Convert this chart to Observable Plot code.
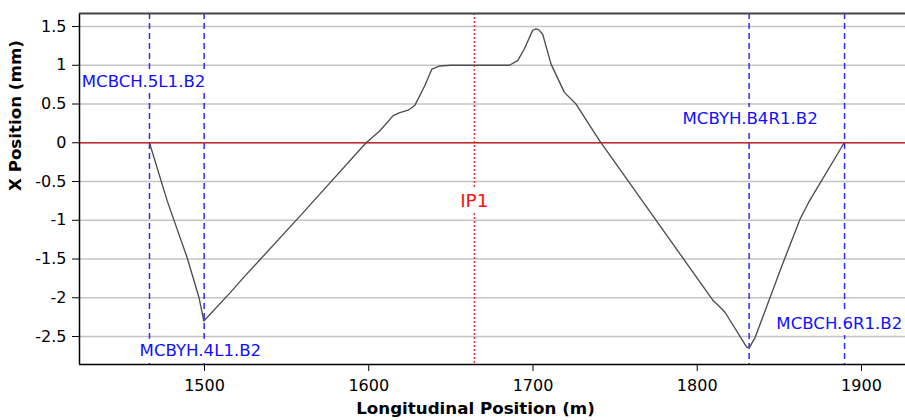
<!DOCTYPE html>
<html>
<head>
<meta charset="utf-8">
<script src="https://cdn.jsdelivr.net/npm/d3@7"></script>
<script src="https://cdn.jsdelivr.net/npm/@observablehq/plot@0.6"></script>
<style>
  html, body { margin: 0; padding: 0; background: white; overflow: hidden; }
  svg { display: block; }
  svg text { font-family: "DejaVu Sans", sans-serif; }
</style>
</head>
<body>
<div id="chart"></div>
<script>
// Orbit curve: longitudinal position (m) and X position (mm)
const orbitS = [1466.5, 1477.3, 1489.4, 1496.7, 1499.6, 1515.8, 1522.9, 1558.4, 1566.5, 1598.4,
  1606.8, 1614.9, 1618.9, 1624.0, 1628.0, 1634.1, 1638.4, 1643.0, 1650.0, 1685.6,
  1690.7, 1694.7, 1699.8, 1701.8, 1703.5, 1705.9, 1711.0, 1719.1, 1726.2, 1740.4,
  1809.8, 1812.9, 1817.0, 1830.2, 1831.8, 1835.3, 1851.5, 1862.7, 1867.8, 1889.5];
const orbitX = [0, -0.75, -1.48, -2.0, -2.30, -1.93, -1.76, -0.94, -0.75, 0,
  0.155, 0.35, 0.39, 0.42, 0.48, 0.735, 0.95, 0.99, 1.0, 1.0,
  1.06, 1.21, 1.45, 1.47, 1.46, 1.40, 1.015, 0.65, 0.50, 0.03,
  -2.04, -2.10, -2.19, -2.64, -2.64, -2.51, -1.59, -0.98, -0.77, 0];

// Corrector magnets
const correctorNames = ["MCBCH.5L1.B2", "MCBYH.4L1.B2", "MCBYH.B4R1.B2", "MCBCH.6R1.B2"];
const correctorS = [1466.5, 1499.8, 1831.6, 1889.7];
const correctorLabelS = [1462.9, 1497.5, 1832.2, 1886.5];
const correctorLabelX = [0.787, -2.68, 0.31, -2.335];

// Interaction point
const ipName = ["IP1"];
const ipS = [1664.3];
const ipLabelX = [-0.75];

// Axes
const xDomain = [1423.9, 1926.8];
const yDomain = [-2.861, 1.668];
const xTicks = [1500, 1600, 1700, 1800, 1900];
const yTicks = [-2.5, -2, -1.5, -1, -0.5, 0, 0.5, 1, 1.5];
const xTitle = ["Longitudinal Position (m)"];
const yTitle = ["X Position (mm)"];

const orbit = orbitS.map((s, i) => ({s, x: orbitX[i]}));
const correctors = correctorNames.map((name, i) => ({name, s: correctorS[i], ls: correctorLabelS[i], lx: correctorLabelX[i]}));
const ip = ipName.map((name, i) => ({name, s: ipS[i], lx: ipLabelX[i]}));

const font = "'DejaVu Sans', sans-serif";

const chart = Plot.plot({
  width: 905,
  height: 420,
  marginLeft: 79,
  marginRight: 0,
  marginTop: 13,
  marginBottom: 56,
  style: {fontFamily: font, fontSize: "16px", background: "white", color: "black"},
  x: {domain: xDomain, axis: null},
  y: {domain: yDomain, axis: null},
  marks: [
    Plot.ruleY(yTicks, {stroke: "#c4c4c4", strokeWidth: 1.5}),
    Plot.ruleX(correctors, {x: "s", stroke: "#2b2bff", strokeWidth: 1.5, strokeDasharray: "6,4"}),
    Plot.ruleX(ip, {x: "s", stroke: "#ff3b3b", strokeWidth: 1.5, strokeDasharray: "2,2"}),
    Plot.ruleY([0], {stroke: "#bf2b2b", strokeWidth: 1.5}),
    Plot.line(orbit, {x: "s", y: "x", stroke: "#4d4d4d", strokeWidth: 1.35}),
    Plot.text(correctors, {x: "ls", y: "lx", text: "name", fill: "#1010ff", fontSize: 16.6, fontFamily: font}),
    Plot.text(ip, {x: "s", y: "lx", text: "name", fill: "#ff1010", fontSize: 18.5, fontFamily: font}),
    // spines
    Plot.ruleX([xDomain[0]], {stroke: "black", strokeWidth: 1.5}),
    Plot.ruleY([yDomain[0]], {stroke: "black", strokeWidth: 1.5}),
    Plot.ruleY([yDomain[1]], {stroke: "#444444", strokeWidth: 2.2}),
    Plot.axisX(xTicks, {tickSize: 7, tickPadding: 8, tickFormat: d => String(d), label: null, fontSize: 16, fontFamily: font, stroke: "black"}),
    Plot.axisY(yTicks, {tickSize: 7, tickPadding: 6, tickFormat: d => String(d), label: null, fontSize: 16, fontFamily: font, stroke: "black"}),
    Plot.text(xTitle, {frameAnchor: "bottom", dy: 49, dx: -17, fontWeight: "bold", fontSize: 16.7, fontFamily: font}),
    Plot.text(yTitle, {frameAnchor: "left", dx: -64, dy: 2, rotate: -90, fontWeight: "bold", fontSize: 16.7, fontFamily: font})
  ]
});

document.getElementById("chart").appendChild(chart);

// white bounding boxes behind the annotation labels
const boxed = new Set([...correctorNames, ...ipName]);
Array.from(chart.querySelectorAll("text")).forEach(t => {
  if (!boxed.has(t.textContent)) return;
  const b = t.getBBox();
  const pad = 2;
  const r = document.createElementNS("http://www.w3.org/2000/svg", "rect");
  r.setAttribute("x", b.x - pad);
  r.setAttribute("y", b.y - pad);
  r.setAttribute("width", b.width + 2 * pad);
  r.setAttribute("height", b.height + 2 * pad);
  r.setAttribute("fill", "white");
  r.setAttribute("stroke", "none");
  const tr = t.getAttribute("transform");
  if (tr) r.setAttribute("transform", tr);
  t.parentNode.insertBefore(r, t);
});
</script>
</body>
</html>
